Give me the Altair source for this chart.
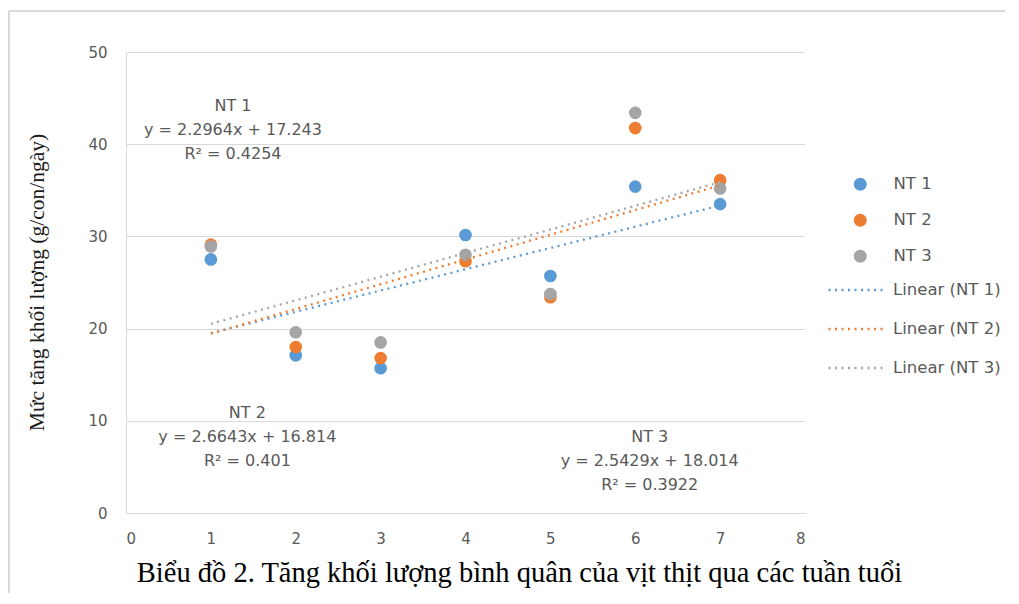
import altair as alt
import pandas as pd

# ---- data ----
weeks = [1, 2, 3, 4, 5, 6, 7]
series_names = ["NT 1", "NT 2", "NT 3"]
nt1 = [27.5, 17.1, 15.7, 30.15, 25.7, 35.4, 33.5]
nt2 = [29.1, 18.0, 16.8, 27.3, 23.4, 41.75, 36.1]
nt3 = [28.9, 19.6, 18.5, 28.0, 23.75, 43.4, 35.2]
x_ticks = [0, 1, 2, 3, 4, 5, 6, 7, 8]
y_ticks = [0, 10, 20, 30, 40, 50]
trend_labels = ["Linear (NT 1)", "Linear (NT 2)", "Linear (NT 3)"]
annot_text = [
    "NT 1\ny = 2.2964x + 17.243\nR² = 0.4254",
    "NT 2\ny = 2.6643x + 16.814\nR² = 0.401",
    "NT 3\ny = 2.5429x + 18.014\nR² = 0.3922",
]
annot_x = [1.26, 1.43, 6.17]
annot_y = [44.1, 10.85, 8.24]
colors = ["#5B9BD5", "#ED7D31", "#A5A5A5"]
caption = "Biểu đồ 2. Tăng khối lượng bình quân của vịt thịt qua các tuần tuổi"
y_title = "Mức tăng khối lượng (g/con/ngày)"

rows = []
for name, vals in zip(series_names, [nt1, nt2, nt3]):
    for w, v in zip(weeks, vals):
        rows.append({"week": w, "gain": v, "series": name})
df = pd.DataFrame(rows)
df_ann = pd.DataFrame({"x": annot_x, "y": annot_y, "text": annot_text})

W, H = 679, 461
LBL = "#595959"
SANS = "DejaVu Sans"
SERIF = "Liberation Serif"

xscale = alt.Scale(domain=[0, 8], nice=False)
yscale = alt.Scale(domain=[0, 50], nice=False)

xaxis = alt.Axis(values=x_ticks, format="d", grid=False, ticks=False, domainColor="#d9d9d9",
                 labelFont=SANS, labelFontSize=15, labelColor=LBL, labelPadding=18,
                 title=caption, titleFont=SERIF, titleFontSize=28.5, titleFontWeight="normal",
                 titleColor="#000000", titleX=393, titleY=68, titleAlign="center",
                 titleBaseline="alphabetic")
yaxis = alt.Axis(values=y_ticks, format="d", grid=True, gridColor="#d9d9d9", ticks=False,
                 domainColor="#d9d9d9", labelFont=SANS, labelFontSize=15, labelColor=LBL,
                 labelPadding=19, title=y_title, titleFont=SERIF, titleFontSize=21.5,
                 titleFontWeight="normal", titleColor="#1a1a1a", titleX=-89, titleY=230,
                 titleAngle=270, titleAlign="center", titleBaseline="middle")

base = alt.Chart(df)

points = base.mark_point(filled=True, opacity=1, size=160).encode(
    x=alt.X("week:Q", scale=xscale, axis=xaxis),
    y=alt.Y("gain:Q", scale=yscale, axis=yaxis),
    color=alt.Color("series:N", scale=alt.Scale(domain=series_names, range=colors),
                    legend=alt.Legend(orient="none", legendX=726, legendY=124, title=None,
                                      symbolType="circle", symbolSize=170, padding=0,
                                      labelFont=SANS, labelFontSize=16.5, labelColor=LBL,
                                      labelOffset=25, rowPadding=19)),
    order=alt.Order("series:N"),
)

lines = base.transform_regression(
    "week", "gain", groupby=["series"], extent=[1, 7]
).transform_calculate(
    trend="'Linear (' + datum.series + ')'"
).mark_line(strokeDash=[2, 4.5], strokeWidth=2.3).encode(
    x=alt.X("week:Q", scale=xscale),
    y=alt.Y("gain:Q", scale=yscale),
    color=alt.Color("trend:N", scale=alt.Scale(domain=trend_labels, range=colors),
                    legend=alt.Legend(orient="none", legendX=701, legendY=207.5, title=None,
                                      symbolType="stroke", symbolSize=3364,
                                      symbolDash=[2, 4.5], symbolStrokeWidth=2.3, padding=0,
                                      labelFont=SANS, labelFontSize=16.5, labelColor=LBL,
                                      labelOffset=5, rowPadding=-5.5)),
)

annots = alt.Chart(df_ann).mark_text(
    font=SANS, fontSize=16, color=LBL, lineBreak="\n", lineHeight=24,
    align="center", baseline="middle"
).encode(
    x=alt.X("x:Q", scale=xscale),
    y=alt.Y("y:Q", scale=yscale),
    text="text:N",
)

frame_left = alt.Chart(df_ann).mark_rule(color="#d9d9d9", strokeWidth=2).encode(
    x=alt.value(-117), y=alt.value(-41), y2=alt.value(560)
)
frame_top = alt.Chart(df_ann).mark_rule(color="#d9d9d9", strokeWidth=2).encode(
    x=alt.value(-117), x2=alt.value(900), y=alt.value(-41)
)

chart = alt.layer(frame_left, frame_top, points, lines, annots).resolve_scale(
    color="independent"
).properties(
    width=W, height=H,
    autosize=alt.AutoSizeParams(type="none"),
    padding={"left": 118, "top": 44, "right": 200, "bottom": 80},
    background="white",
).configure_view(stroke=None)

chart.save("out.html", embed_options={"renderer": "svg", "actions": False})
